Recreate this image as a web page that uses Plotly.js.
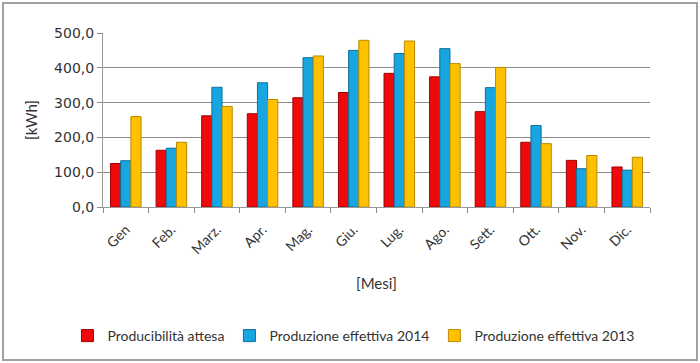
<!DOCTYPE html>
<html><head><meta charset="utf-8">
<script src="https://cdn.plot.ly/plotly-3.0.1.min.js"></script>
<style>
body{margin:0;padding:0;background:#fff;}
#wrap{position:relative;width:700px;height:363px;}
#chart{width:700px;height:363px;}
#frame{position:absolute;left:2px;top:2px;width:692px;height:355px;border:2px solid #a0a0a0;pointer-events:none;}
</style></head>
<body>
<div id="wrap"><div id="chart"></div><div id="frame"></div></div>
<script>
const months = ["Gen","Feb.","Marz.","Apr.","Mag.","Giu.","Lug.","Ago.","Sett.","Ott.","Nov.","Dic."];
const seriesNames = ["Producibilità attesa","Produzione effettiva 2014","Produzione effettiva 2013"];
const attesa = [125,163,262,268,314,329,384,374,274,186,134,115];
const eff2014 = [133,169,344,357,429,450,441,455,343,234,110,106];
const eff2013 = [260,186,289,309,434,479,477,412,401,182,148,143];
const colors = ["#ee0a0a","#17a6e0","#ffc000"];
const lineColors = ["#a00000","#0d6f99","#b88a00"];
const yTicks = [0,100,200,300,400,500];

const data = [attesa, eff2014, eff2013].map((v,i)=>({
  type:'bar', x:months, y:v, name:seriesNames[i],
  marker:{color:colors[i], line:{color:lineColors[i], width:1}}
}));

const layout = {
  width:700, height:363,
  margin:{l:103,r:50,t:33,b:155},
  paper_bgcolor:'#fff', plot_bgcolor:'#fff',
  separators:',.',
  barmode:'group', bargap:0.33, bargroupgap:0,
  font:{family:'DejaVu Sans, sans-serif', color:'#333'},
  xaxis:{
    tickangle:-45, tickfont:{family:'Lato, sans-serif', size:14, color:'#333'},
    ticks:'outside', tickson:'boundaries', ticklen:5, tickcolor:'#888',
    ticklabelstandoff:8,
    showline:true, linecolor:'#999', linewidth:1,
    title:{text:'[Mesi]', font:{family:'Lato, sans-serif', size:15, color:'#333'}, standoff:22}
  },
  yaxis:{
    range:[0,500], tickvals:yTicks, tickformat:'.1f',
    tickfont:{family:'DejaVu Sans, sans-serif', size:14, color:'#333'},
    ticks:'outside', ticklen:5, tickcolor:'#888',
    showline:true, linecolor:'#999', linewidth:1,
    showgrid:true, gridcolor:'#8c8c8c', gridwidth:1,
    zeroline:false,
    title:{text:'[kWh]', font:{family:'Lato, sans-serif', size:15, color:'#333'}, standoff:12}
  },
  legend:{orientation:'h', x:-0.065, xanchor:'left', y:-0.64, yanchor:'top',
    font:{family:'Lato, sans-serif', size:14, color:'#333'}, itemwidth:30, traceorder:'normal'},
  showlegend:true
};
Plotly.newPlot('chart', data, layout, {displayModeBar:false, staticPlot:true});
</script>
</body></html>
